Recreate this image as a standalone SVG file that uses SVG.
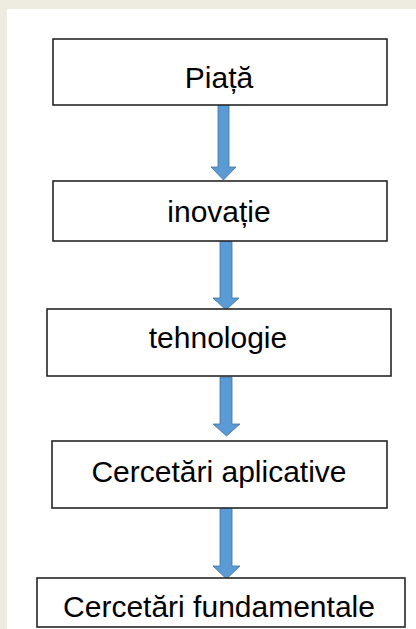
<svg xmlns="http://www.w3.org/2000/svg" width="416" height="629" viewBox="0 0 416 629">
<defs>
<style>
.box{fill:#ffffff;stroke:#262626;stroke-width:1.6}
.lbl{font-family:"Liberation Sans",Arial,sans-serif;font-size:30px;fill:#000;text-anchor:middle}
.arr{fill:#5b9bd5;stroke:#41719c;stroke-width:0.8}
</style>
</defs>
<rect x="0" y="0" width="416" height="629" fill="#eeebe1"/>
<rect x="7" y="9" width="409" height="620" fill="#ffffff"/>
<g id="connectors">
<path class="arr" d="M218,100 H229 V167 H236 L223.5,180 L211,167 H218 Z"/>
<path class="arr" d="M220,241 H232 V298 H239 L226,310 L213,298 H220 Z"/>
<path class="arr" d="M220,377 H232 V424 H240 L226.5,436 L213,424 H220 Z"/>
<path class="arr" d="M220,508 H232 V566 H240 L226.5,579 L213,566 H220 Z"/>
</g>
<g id="piata">
<rect class="box" x="53" y="39" width="334" height="66"/>
<text class="lbl" x="219" y="88">Piață</text>
</g>
<g id="inovatie">
<rect class="box" x="53" y="181" width="334" height="60"/>
<text class="lbl" x="219" y="222">inovație</text>
</g>
<g id="tehnologie">
<rect class="box" x="47" y="309" width="344" height="67"/>
<text class="lbl" x="218" y="348">tehnologie</text>
</g>
<g id="aplicative">
<rect class="box" x="52" y="441" width="335" height="67"/>
<text class="lbl" x="219" y="482">Cercetări aplicative</text>
</g>
<g id="fundamentale">
<rect class="box" x="37" y="578" width="368" height="49"/>
<text class="lbl" x="219" y="617">Cercetări fundamentale</text>
</g>
</svg>
